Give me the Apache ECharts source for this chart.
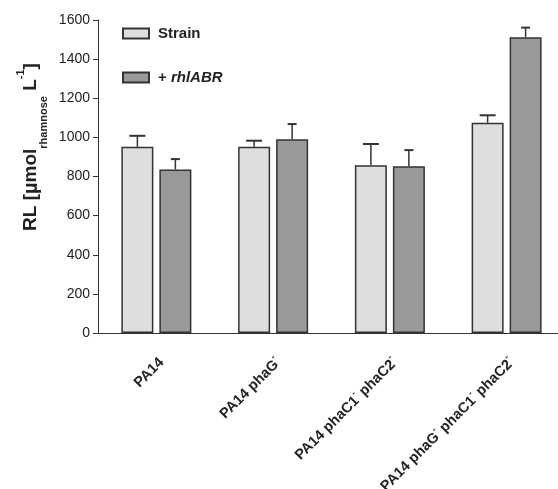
<!DOCTYPE html>
<html><head><meta charset="utf-8">
<script src="https://cdn.jsdelivr.net/npm/echarts@6/dist/echarts.min.js"></script>
<style>html,body{margin:0;padding:0;background:#fff}#c{width:558px;height:489px}</style>
</head><body><div id="c"></div>
<script>
const categories = ['PA14', 'PA14 phaG', 'PA14 phaC1 phaC2', 'PA14 phaG phaC1 phaC2'];
const categoryLabels = [
  '{t|PA14}',
  '{t|PA14 phaG}{s|-}',
  '{t|PA14 phaC1}{s|-}{t| phaC2}{s|-}',
  '{t|PA14 phaG}{s|-}{t| phaC1}{s|-}{t| phaC2}{s|-}'
];
const strainValues = [952, 952, 858, 1075];
const strainErrTop = [1008, 983, 966, 1113];
const rhlValues = [836, 991, 853, 1512];
const rhlErrTop = [889, 1068, 935, 1561];
const yTicks = [0, 200, 400, 600, 800, 1000, 1200, 1400, 1600];

const FONT = 'Liberation Sans, Arial, sans-serif';
const BAR_W = 32, GAP = 6;
const chart = echarts.init(document.getElementById('c'));

function errSeries(name, vals, tops, sign, capW) {
  return {
    type: 'custom', name: name + ' err', silent: true, z: 5,
    data: vals.map((v, i) => [i, v, tops[i]]),
    renderItem: function (params, api) {
      const p0 = api.coord([api.value(0), api.value(1)]);
      const p1 = api.coord([api.value(0), api.value(2)]);
      const x = p0[0] + sign * (BAR_W + GAP) / 2;
      return {
        type: 'group', children: [
          { type: 'line', shape: { x1: x, y1: p0[1], x2: x, y2: p1[1] }, style: { stroke: '#333', lineWidth: 1.5 } },
          { type: 'line', shape: { x1: x - capW / 2, y1: p1[1], x2: x + capW / 2, y2: p1[1] }, style: { stroke: '#333', lineWidth: 2 } }
        ]
      };
    }
  };
}

chart.setOption({
  animation: false,
  backgroundColor: '#fff',
  grid: { left: 98, right: -7, top: 20, bottom: 156, containLabel: false, outerBoundsMode: 'none' },
  legend: {
    orient: 'vertical', left: 117, top: 21,
    itemWidth: 26, itemHeight: 10, itemGap: 29,
    icon: 'rect',
    data: ['Strain', '+ rhlABR'],
    formatter: function (n) { return n === 'Strain' ? '{b|Strain}' : '{b|+ }{i|rhlABR}'; },
    textStyle: {
      padding: [0, 0, 0, 4],
      rich: {
        b: { fontFamily: FONT, fontSize: 15, fontWeight: 'bold', color: '#222' },
        i: { fontFamily: FONT, fontSize: 15, fontWeight: 'bold', fontStyle: 'italic', color: '#222' }
      }
    }
  },
  xAxis: {
    type: 'category', data: categories,
    axisLine: { lineStyle: { color: '#333', width: 1 } },
    axisTick: { alignWithLabel: true, length: 6, lineStyle: { color: '#333' } },
    axisLabel: {
      rotate: 45, margin: 22, interval: 0,
      padding: [12, 0, 0, 0],
      formatter: function (v, i) { return categoryLabels[i]; },
      rich: {
        t: { fontFamily: FONT, fontSize: 14.5, fontWeight: 'bold', color: '#222', lineHeight: 18, verticalAlign: 'bottom' },
        s: { fontFamily: FONT, fontSize: 9, fontWeight: 'bold', color: '#222', verticalAlign: 'top', lineHeight: 18 }
      }
    }
  },
  yAxis: {
    type: 'value', min: 0, max: 1600, interval: 200,
    axisLine: { show: true, lineStyle: { color: '#333', width: 1 } },
    axisTick: { show: true, length: 5, lineStyle: { color: '#333' } },
    splitLine: { show: false },
    axisLabel: {
      margin: 8, fontFamily: FONT, fontSize: 14, color: '#222',
      formatter: function (v) { return yTicks.indexOf(v) >= 0 ? String(v) : ''; }
    }
  },
  graphic: [{
    type: 'text', x: 31, y: 147, rotation: Math.PI / 2,
    style: {
      text: '{b|RL [}{m|µ}{b|mol}{sub|rhamnose}{b| L}{sup|-1}{b|]}',
      align: 'center', verticalAlign: 'middle',
      rich: {
        b: { fontFamily: FONT, fontSize: 19, fontWeight: 'bold', fill: '#222', lineHeight: 36, verticalAlign: 'middle' },
        m: { fontFamily: FONT, fontSize: 20, fontWeight: 'bold', fill: '#222', lineHeight: 36, verticalAlign: 'middle' },
        sub: { fontFamily: FONT, fontSize: 11, fontWeight: 'bold', fill: '#222', verticalAlign: 'bottom', lineHeight: 14 },
        sup: { fontFamily: FONT, fontSize: 11, fontWeight: 'bold', fill: '#222', verticalAlign: 'middle', lineHeight: 12, padding: [0, 0, 20, 0] }
      }
    }
  }],
  series: [
    {
      name: 'Strain', type: 'bar', data: strainValues, barWidth: BAR_W, barGap: (GAP / BAR_W * 100) + '%',
      itemStyle: { color: '#dedede', borderColor: '#333', borderWidth: 1.5 }
    },
    {
      name: '+ rhlABR', type: 'bar', data: rhlValues, barWidth: BAR_W,
      itemStyle: { color: '#999999', borderColor: '#333', borderWidth: 1.5 }
    },
    errSeries('Strain', strainValues, strainErrTop, -1, 16),
    errSeries('+ rhlABR', rhlValues, rhlErrTop, 1, 9)
  ]
});
</script></body></html>
